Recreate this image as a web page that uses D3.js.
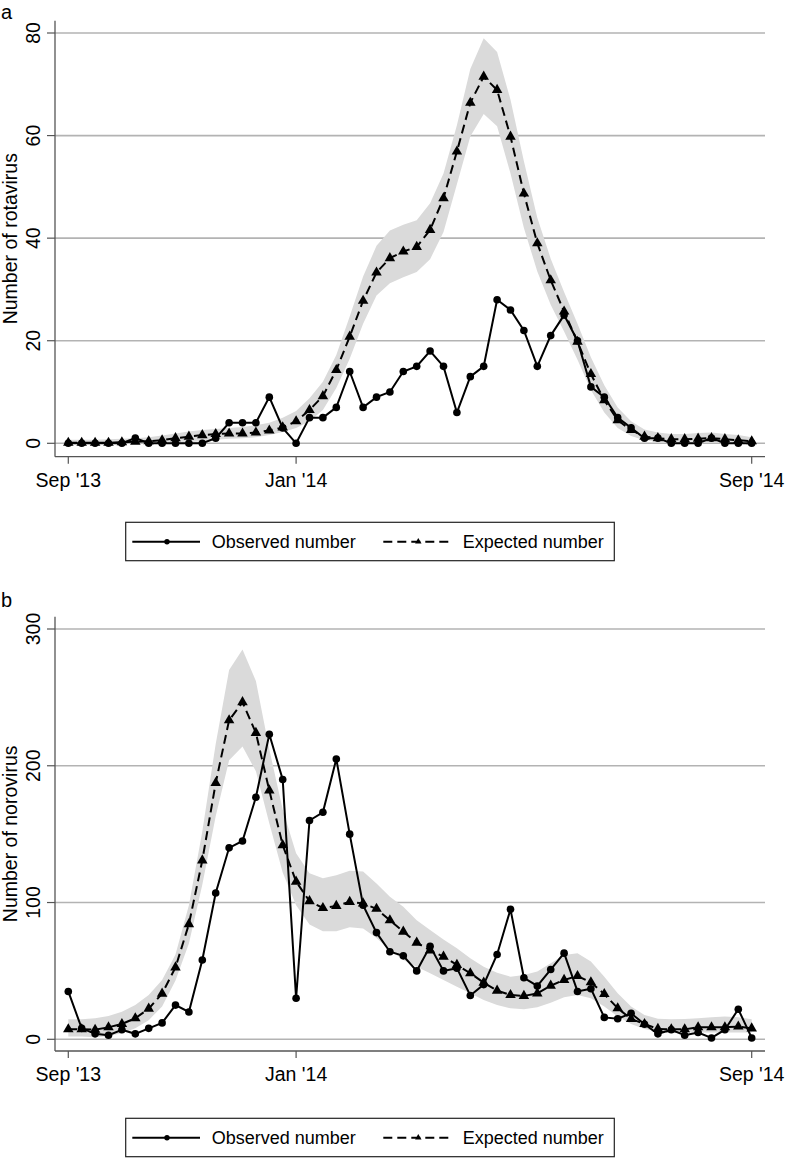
<!DOCTYPE html>
<html>
<head>
<meta charset="utf-8">
<script src="https://cdn.jsdelivr.net/npm/d3@7/dist/d3.min.js"></script>
<style>
body { margin: 0; background: #fff; }
svg { display: block; font-family: "Liberation Sans", Arial, Helvetica, sans-serif; }
</style>
</head>
<body>
<svg id="chart" width="787" height="1158"></svg>
<script>
// x axis: week index, Sep '13 .. Sep '14
var tickWeeks = [0, 17, 51];
var tickLabels = ["Sep '13", "Jan '14", "Sep '14"];
var legendLabels = ["Observed number", "Expected number"];

// panel a - rotavirus
var rotaObserved = [0, 0, 0, 0, 0, 1, 0, 0, 0, 0, 0, 1, 4, 4, 4, 9, 3, 0, 5, 5,
    7, 14, 7, 9, 10, 14, 15, 18, 15, 6, 13, 15, 28, 26, 22, 15, 21, 25, 20, 11,
    9, 5, 3, 1, 1, 0, 0, 0, 1, 0, 0, 0];
var rotaExpected = [0.1, 0.1, 0.1, 0.1, 0.2, 0.3, 0.4, 0.6, 1.0, 1.3, 1.6, 1.8, 1.9, 1.9, 2.1, 2.5, 3.1, 4.3, 6.5, 9.2,
    14.3, 20.8, 27.8, 33.3, 36.1, 37.4, 38.3, 41.6, 47.8, 56.9, 66.4, 71.5, 68.9, 59.8, 48.7, 39.0, 31.8, 25.7, 19.8, 13.5,
    8.4, 4.5, 2.6, 1.3, 1.0, 0.8, 0.8, 0.9, 1.0, 0.8, 0.6, 0.4];
var rotaUpper = [0.7, 0.7, 0.7, 0.8, 0.9, 1.0, 1.2, 1.5, 1.9, 2.3, 2.6, 2.8, 3.0, 3.2, 3.5, 4.0, 5.0, 6.3, 8.8, 12.0,
    17.2, 24.7, 32.5, 38.5, 41.5, 42.6, 43.5, 46.8, 52.6, 62.0, 73.0, 79.0, 76.3, 67.0, 55.0, 44.0, 36.0, 29.5, 23.3, 16.8,
    11.3, 7.0, 4.3, 2.7, 2.1, 1.8, 1.8, 2.0, 2.1, 1.8, 1.6, 1.2];
var rotaLower = [0, 0, 0, 0, 0, 0, 0, 0, 0, 0.2, 0.4, 0.7, 0.9, 1.0, 1.2, 1.6, 2.2, 3.0, 4.3, 6.5,
    10.8, 16.5, 23.3, 28.8, 31.2, 32.4, 33.4, 35.9, 41.2, 50.5, 59.8, 64.2, 61.8, 52.6, 42.0, 33.5, 27.0, 21.8, 16.3, 10.4,
    6.0, 3.0, 1.4, 0.6, 0.4, 0.3, 0.3, 0.3, 0.3, 0.3, 0.2, 0.1];
var rotaTicks = [0, 20, 40, 60, 80];

// panel b - norovirus
var noroObserved = [35, 8, 4, 3, 7, 4, 8, 12, 25, 20, 58, 107, 140, 145, 177, 223, 190, 30, 160, 166,
    205, 150, 98, 78, 64, 61, 50, 68, 50, 52, 32, 40, 62, 95, 45, 39, 51, 63, 35, 37,
    16, 15, 19, 11, 4, 7, 3, 5, 1, 7, 22, 1];
var noroExpected = [7.3, 7.3, 7.0, 8.8, 11.2, 15.4, 22.4, 33.4, 52.6, 84.2, 130.8, 187.4, 233.3, 246.5, 224, 182, 142, 115.3, 101, 96,
    97.5, 100.5, 99.4, 95.4, 87, 78.7, 70.7, 65, 60.4, 54.4, 48.3, 41.4, 35.6, 32.4, 31.7, 33.6, 39.2, 43.4, 46.3, 41.7,
    33.1, 22.7, 14.9, 11.2, 7.6, 7.3, 7.3, 8.8, 8.8, 8.8, 9.3, 8.0];
var noroUpper = [14.6, 14.6, 15.4, 17.0, 20.2, 25.1, 32.4, 43.4, 62.0, 98.0, 152, 216, 270, 285, 262, 212, 168, 136, 121.4, 117.7,
    120, 123.3, 122.6, 114, 104.3, 97, 87, 80, 73, 66.5, 59.2, 53, 48.7, 45.8, 47, 49.5, 55.6, 61.7, 62.9, 56.8,
    45.8, 33.6, 23.9, 17.8, 15.1, 14.6, 14.9, 15.4, 16.1, 16.6, 16.1, 14.6];
var noroLower = [2.0, 2.0, 1.5, 2.4, 4.4, 8.0, 14.0, 24.0, 43.0, 70.0, 113, 163, 204, 214, 196, 158, 122, 98, 84, 79,
    79, 82, 81, 74, 65.3, 58, 53, 48.3, 43.4, 38.5, 33.6, 28.8, 25.1, 22.7, 21.9, 23.4, 26.8, 30.7, 32.4, 30,
    23.9, 16.6, 11.2, 7.6, 5.6, 4.9, 4.9, 4.9, 4.9, 4.9, 4.9, 4.9];
var noroTicks = [0, 100, 200, 300];

var svg = d3.select("#chart");

var plotLeft = 55, plotRight = 765;
var x = d3.scaleLinear().domain([0, 51]).range([68.3, 751.7]);

var gridColor = "#b3b3b3";
var axisColor = "#555";
var bandColor = "#dadada";
var dash = "9,5";

function drawPanel(p) {
    var g = svg.append("g");
    var y = d3.scaleLinear().domain([0, p.yMax]).range([p.zeroY, p.maxY]);

    // panel letter
    g.append("text")
        .attr("x", 1).attr("y", p.letterY)
        .attr("font-size", 20)
        .text(p.letter);

    // gridlines
    g.selectAll(".grid").data(p.ticks).enter().append("line")
        .attr("x1", plotLeft).attr("x2", plotRight)
        .attr("y1", function(d) { return y(d); })
        .attr("y2", function(d) { return y(d); })
        .attr("stroke", gridColor).attr("stroke-width", 1.6);

    // confidence band
    var band = d3.area()
        .x(function(d, i) { return x(i); })
        .y0(function(d, i) { return y(p.lower[i]); })
        .y1(function(d, i) { return y(p.upper[i]); });
    g.append("path").datum(p.expected)
        .attr("d", band)
        .attr("fill", bandColor);

    // axes
    g.append("line")
        .attr("x1", plotLeft).attr("x2", plotLeft)
        .attr("y1", p.axisTop).attr("y2", p.axisY)
        .attr("stroke", axisColor).attr("stroke-width", 1.3);
    g.append("line")
        .attr("x1", plotLeft).attr("x2", plotRight)
        .attr("y1", p.axisY).attr("y2", p.axisY)
        .attr("stroke", axisColor).attr("stroke-width", 1.3);

    // y ticks and labels
    g.selectAll(".ytick").data(p.ticks).enter().append("line")
        .attr("x1", plotLeft - 8).attr("x2", plotLeft)
        .attr("y1", function(d) { return y(d); })
        .attr("y2", function(d) { return y(d); })
        .attr("stroke", axisColor).attr("stroke-width", 1.2);
    g.selectAll(".ylab").data(p.ticks).enter().append("text")
        .attr("transform", function(d) { return "translate(40," + y(d) + ") rotate(-90)"; })
        .attr("text-anchor", "middle")
        .attr("font-size", 19.5)
        .text(function(d) { return d; });

    // y title
    g.append("text")
        .attr("transform", "translate(17," + ((p.axisTop + p.axisY) / 2) + ") rotate(-90)")
        .attr("text-anchor", "middle")
        .attr("font-size", 19.5)
        .text(p.yTitle);

    // x ticks and labels
    g.selectAll(".xtick").data(tickWeeks).enter().append("line")
        .attr("x1", function(d) { return x(d); })
        .attr("x2", function(d) { return x(d); })
        .attr("y1", p.axisY).attr("y2", p.axisY + 7)
        .attr("stroke", axisColor).attr("stroke-width", 1.2);
    g.selectAll(".xlab").data(tickWeeks).enter().append("text")
        .attr("x", function(d) { return x(d); })
        .attr("y", p.axisY + 30)
        .attr("text-anchor", "middle")
        .attr("font-size", 19.5)
        .text(function(d, i) { return tickLabels[i]; });

    // expected (dashed + triangles)
    var line = d3.line()
        .x(function(d, i) { return x(i); })
        .y(function(d) { return y(d); });
    g.append("path").datum(p.expected)
        .attr("d", line)
        .attr("fill", "none").attr("stroke", "#000")
        .attr("stroke-width", 2).attr("stroke-dasharray", dash);
    var tri = d3.symbol().type(d3.symbolTriangle).size(48);
    g.selectAll(".tri").data(p.expected).enter().append("path")
        .attr("d", tri)
        .attr("transform", function(d, i) { return "translate(" + x(i) + "," + y(d) + ")"; })
        .attr("fill", "#000");

    // observed (solid + circles)
    g.append("path").datum(p.observed)
        .attr("d", line)
        .attr("fill", "none").attr("stroke", "#000")
        .attr("stroke-width", 2);
    g.selectAll(".dot").data(p.observed).enter().append("circle")
        .attr("cx", function(d, i) { return x(i); })
        .attr("cy", function(d) { return y(d); })
        .attr("r", 3.8)
        .attr("fill", "#000");

    // legend
    var ly = p.legendTop + 19.4;
    g.append("rect")
        .attr("x", 125.7).attr("y", p.legendTop)
        .attr("width", 488.6).attr("height", 38.4)
        .attr("fill", "#fff").attr("stroke", "#222").attr("stroke-width", 1.2);
    g.append("line")
        .attr("x1", 132.3).attr("x2", 200).attr("y1", ly).attr("y2", ly)
        .attr("stroke", "#000").attr("stroke-width", 2);
    g.append("circle").attr("cx", 167).attr("cy", ly).attr("r", 2.7).attr("fill", "#000");
    g.append("text")
        .attr("x", 211.7).attr("y", ly + 6.5)
        .attr("font-size", 18)
        .text(legendLabels[0]);
    g.append("line")
        .attr("x1", 383.3).attr("x2", 450).attr("y1", ly).attr("y2", ly)
        .attr("stroke", "#000").attr("stroke-width", 2).attr("stroke-dasharray", dash);
    g.append("path")
        .attr("d", d3.symbol().type(d3.symbolTriangle).size(18))
        .attr("transform", "translate(418.3," + ly + ")")
        .attr("fill", "#000");
    g.append("text")
        .attr("x", 462.7).attr("y", ly + 6.5)
        .attr("font-size", 18)
        .text(legendLabels[1]);
}

drawPanel({
    letter: "a", letterY: 19,
    yTitle: "Number of rotavirus",
    yMax: 80, ticks: rotaTicks,
    zeroY: 443.3, maxY: 33,
    axisTop: 20.7, axisY: 456.7,
    legendTop: 522.3,
    observed: rotaObserved, expected: rotaExpected,
    upper: rotaUpper, lower: rotaLower
});

drawPanel({
    letter: "b", letterY: 607,
    yTitle: "Number of norovirus",
    yMax: 300, ticks: noroTicks,
    zeroY: 1039.3, maxY: 629,
    axisTop: 616.7, axisY: 1051,
    legendTop: 1118.3,
    observed: noroObserved, expected: noroExpected,
    upper: noroUpper, lower: noroLower
});
</script>
</body>
</html>
